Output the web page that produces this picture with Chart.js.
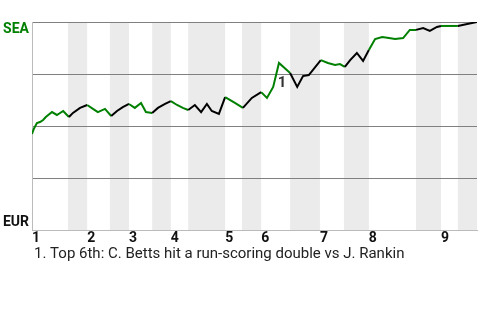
<!DOCTYPE html>
<html>
<head>
<meta charset="utf-8">
<script src="https://cdn.jsdelivr.net/npm/chart.js@4/dist/chart.umd.min.js"></script>
<style>
  body { margin: 0; background: #fff; }
  #wrap { width: 480px; height: 320px; position: relative; }
</style>
</head>
<body>
<div id="wrap"><canvas id="chart"></canvas></div>
<script>
// innings, where each one starts (percent of game), and the bottom halves (shaded)
const innings = ['1', '2', '3', '4', '5', '6', '7', '8', '9'];
const inningStarts = [0, 12.4, 21.8, 31.2, 43.4, 51.5, 64.7, 75.7, 91.9];
const bottomHalves = [[8.1, 12.4], [17.5, 21.8], [27.0, 31.2], [35.1, 43.4], [47.2, 51.5],
                      [58.0, 64.7], [70.1, 75.7], [86.3, 91.9], [95.7, 100]];

// game progress (%) and SEA win probability (%)
const progress = [0, 0.4, 1.1, 1.8, 2.5, 3.1, 4.5, 5.6, 7.0, 8.3,
                  9.2, 10.8, 12.4, 13.7, 14.8, 16.4, 17.8, 19.1, 20.4, 21.8,
                  23.1, 24.5, 25.6, 27.0, 28.3, 29.9, 31.2, 32.6, 33.9, 35.1,
                  36.6, 38.0, 39.3, 40.4, 42.0, 43.4, 45.6, 47.4, 49.4, 51.5,
                  52.8, 54.2, 55.5, 58.0, 59.6, 60.9, 62.2, 64.9, 66.5, 68.1,
                  69.2, 70.3, 71.5, 73.0, 74.4, 75.7, 77.1, 78.7, 80.2, 81.6,
                  83.4, 84.9, 86.3, 87.9, 89.4, 91.0, 91.9, 95.7, 97.8, 100];
const seaWinPct = [46.2, 48.6, 51.4, 51.9, 52.9, 54.3, 56.7, 55.3, 57.2, 54.3,
                   56.3, 58.7, 60.1, 58.2, 56.7, 58.2, 54.8, 57.2, 59.1, 60.6,
                   58.7, 61.1, 56.7, 56.3, 58.7, 60.6, 62.0, 60.1, 58.7, 57.7,
                   60.1, 56.7, 60.6, 57.2, 55.8, 63.9, 61.1, 58.7, 63.5, 66.3,
                   63.5, 68.8, 80.3, 75.5, 68.8, 74.0, 74.5, 81.7, 80.3, 79.3,
                   79.8, 78.4, 81.7, 85.1, 81.3, 86.5, 91.8, 92.8, 92.3, 91.8,
                   92.3, 96.2, 96.2, 97.1, 95.7, 97.6, 98.1, 98.1, 99.0, 100];

const noteIndex = 42;
const noteLabel = '1';
const noteText = '1. Top 6th: C. Betts hit a run-scoring double vs J. Rankin';

const topColor = '#008000';
const bottomColor = '#000000';

function inBottomHalf(x) {
    return bottomHalves.some(b => x >= b[0] && x < b[1]);
}

const bands = {
    id: 'bands',
    beforeDraw(chart) {
        const {ctx, chartArea, scales} = chart;
        ctx.save();
        ctx.fillStyle = '#ebebeb';
        bottomHalves.forEach(b => {
            const x0 = scales.x.getPixelForValue(b[0]);
            const x1 = scales.x.getPixelForValue(b[1]);
            ctx.fillRect(x0, chartArea.top, x1 - x0, chartArea.bottom - chartArea.top);
        });
        ctx.restore();
    }
};

const notes = {
    id: 'notes',
    afterDraw(chart) {
        const {ctx, chartArea} = chart;
        const pt = chart.getDatasetMeta(0).data[noteIndex];
        ctx.save();
        ctx.font = 'bold 15px Roboto';
        ctx.fillStyle = '#333';
        ctx.textAlign = 'center';
        ctx.textBaseline = 'middle';
        ctx.fillText(noteLabel, pt.x + 3, pt.y + 20);
        ctx.font = '15px Roboto';
        ctx.fillStyle = '#222';
        ctx.textAlign = 'left';
        ctx.fillText(noteText, chartArea.left + 2, chartArea.bottom + 24);
        ctx.restore();
    }
};

new Chart(document.getElementById('chart'), {
    type: 'line',
    data: {
        datasets: [{
            data: progress.map((x, i) => ({x: x, y: seaWinPct[i]})),
            borderWidth: 2,
            pointRadius: 0,
            tension: 0,
            segment: {
                borderColor: ctx => inBottomHalf(progress[ctx.p0DataIndex]) ? bottomColor : topColor
            }
        }]
    },
    options: {
        responsive: true,
        maintainAspectRatio: false,
        animation: false,
        layout: {padding: {top: 22, right: 3, bottom: 72, left: 0}},
        plugins: {
            legend: {display: false},
            tooltip: {enabled: false}
        },
        scales: {
            x: {
                type: 'linear',
                min: 0,
                max: 100,
                afterBuildTicks: scale => {
                    scale.ticks = inningStarts.map(v => ({value: v}));
                },
                afterFit: scale => { scale.height = 18; },
                ticks: {
                    align: 'start',
                    padding: 0,
                    maxRotation: 0,
                    autoSkip: false,
                    color: '#111',
                    font: {family: 'Roboto', size: 14, weight: 'bold'},
                    callback: (v, i) => innings[i]
                },
                grid: {display: false, drawTicks: false},
                border: {display: true, color: '#bbb'}
            },
            y: {
                min: 0,
                max: 100,
                afterBuildTicks: scale => {
                    scale.ticks = [0, 25, 50, 75, 100].map(v => ({value: v}));
                },
                afterFit: scale => { scale.width = 32; },
                ticks: {
                    padding: 3,
                    color: ctx => ctx.tick.value === 100 ? topColor : '#111',
                    font: {family: 'Roboto', size: 14, weight: 'bold', lineHeight: '15px'},
                    callback: v => v === 100 ? ['', 'SEA'] : (v === 0 ? ['EUR', ''] : '')
                },
                grid: {
                    drawTicks: false,
                    color: ctx => ctx.tick.value === 0 ? 'transparent' : '#808080'
                },
                border: {display: true, color: '#bbb'}
            }
        }
    },
    plugins: [bands, notes]
});
</script>
</body>
</html>
